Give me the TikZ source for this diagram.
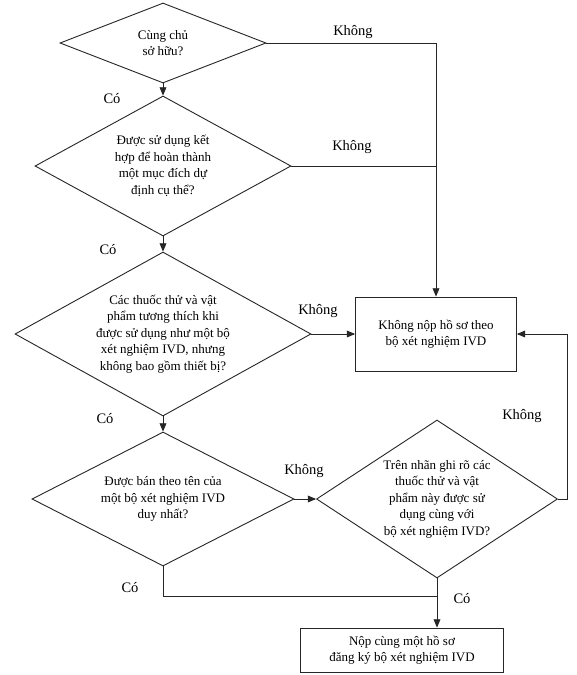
\documentclass[tikz,border=0pt]{standalone}
\usepackage{fontspec}
\setmainfont{Liberation Serif}
\usetikzlibrary{positioning,arrows,shapes}
\tikzset{
  decision/.style={diamond, draw=black!85, line width=0.9pt, inner sep=0pt, align=center,
    font=\rmfamily\fontsize{13}{16.5}\selectfont},
  block/.style={rectangle, draw=black!85, line width=0.9pt, inner sep=0pt, align=center,
    font=\rmfamily\fontsize{13}{15.5}\selectfont},
  link/.style={draw=black!85, line width=0.9pt},
  flow/.style={link, -triangle 45},
  answer/.style={inner sep=0pt, font=\rmfamily\fontsize{14.5}{17}\selectfont}
}

\begin{document}
\begin{tikzpicture}[x=1pt, y=-1pt]
    \useasboundingbox[fill=white] (0,0) rectangle (576,675);

    % questions
    \node[decision, aspect=2.57, minimum width=206, minimum height=80]  (own)   at (163,43)  {Cùng chủ\\ sở hữu?};
    \node[decision, aspect=1.83, minimum width=256, minimum height=140] (goal)  at (163,166) {Được sử dụng kết\\ hợp để hoàn thành\\ một mục đích dự\\ định cụ thể?};
    \node[decision, aspect=1.8,  minimum width=296, minimum height=164] (comp)  at (163,334) {Các thuốc thử và vật\\ phẩm tương thích khi\\ được sử dụng như một bộ\\ xét nghiệm IVD, nhưng\\ không bao gồm thiết bị?};
    \node[decision, aspect=1.95, minimum width=262, minimum height=134] (sold)  at (163,499) {Được bán theo tên của\\ một bộ xét nghiệm IVD\\ duy nhất?};
    \node[decision, aspect=1.53, minimum width=241, minimum height=158] (label) at (437,499) {Trên nhãn ghi rõ các\\ thuốc thử và vật\\ phẩm này được sử\\ dụng cùng với\\ bộ xét nghiệm IVD?};

    % outcomes
    \node[block, minimum width=161, minimum height=74] (nokit) at (436,334) {Không nộp hồ sơ theo\\ bộ xét nghiệm IVD};
    \node[block, minimum width=203, minimum height=44] (kit)   at (402,650) {Nộp cùng một hồ sơ\\ đăng ký bộ xét nghiệm IVD};

    \coordinate (j) at (label.south |- 0,596);

    \draw[flow] (own.east) -| (nokit.north);
    \draw[link] (goal.east) -- (goal.east -| nokit.north);
    \draw[flow] (comp.east) -- (nokit.west);
    \draw[flow] (label.east) -- ++(9,0) |- (nokit.east);

    \draw[flow] (own.south) -- (goal.north);
    \draw[flow] (goal.south) -- (comp.north);
    \draw[flow] (comp.south) -- (sold.north);
    \draw[flow] (sold.east) -- (label.west);
    \draw[link] (sold.south) |- (j);
    \draw[flow] (label.south) -- (label.south |- kit.north);

    % answers
    \node[answer] (no1) at (353,32)  {Không};
    \node[answer] (no2) at (352,147) {Không};
    \node[answer] (no3) at (318,311) {Không};
    \node[answer] (no4) at (522,416) {Không};
    \node[answer] (no5) at (304,471) {Không};
    \node[answer] (yes1) at (112,99)  {Có};
    \node[answer] (yes2) at (108,250) {Có};
    \node[answer] (yes3) at (105,419) {Có};
    \node[answer] (yes4) at (130,588) {Có};
    \node[answer] (yes5) at (462,599) {Có};
\end{tikzpicture}
\end{document}
